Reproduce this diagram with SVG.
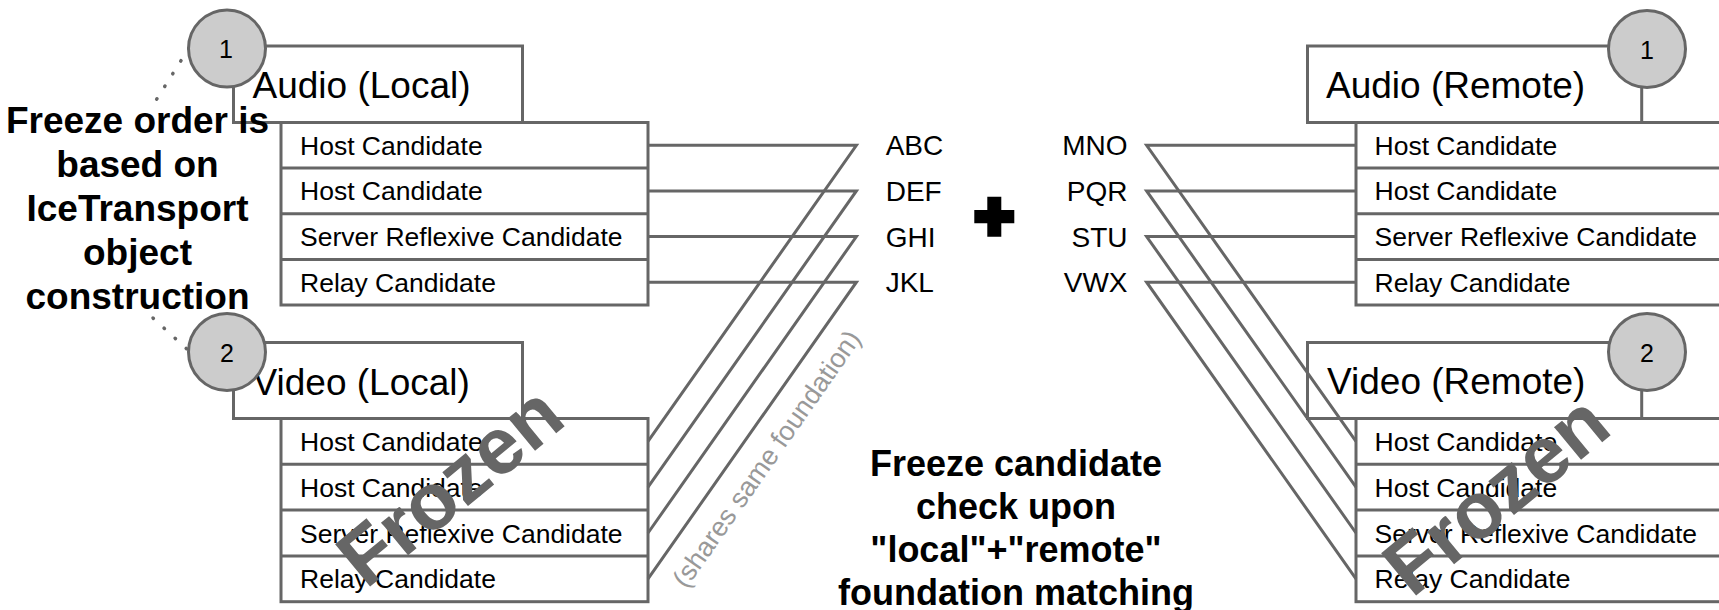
<svg xmlns="http://www.w3.org/2000/svg" width="1719" height="610" viewBox="0 0 1719 610">
<style>
.box{fill:#ffffff;stroke:#666666;stroke-width:3}
.div{stroke:#666666;stroke-width:3}
.badge{fill:#cccccc;stroke:#666666;stroke-width:3}
.conn{fill:none;stroke:#666666;stroke-width:3;stroke-linejoin:miter}
.dots{fill:none;stroke:#666666;stroke-width:3.5;stroke-linecap:round;stroke-dasharray:0.5 14.5}
.title{font-family:"Liberation Sans",Arial,sans-serif;font-size:37px;fill:#000}
.cand{font-family:"Liberation Sans",Arial,sans-serif;font-size:26.5px;fill:#000}
.lbl{font-family:"Liberation Sans",Arial,sans-serif;font-size:28px;fill:#000}
.num{font-family:"Liberation Sans",Arial,sans-serif;font-size:25px;fill:#000;text-anchor:middle}
.note{font-family:"Liberation Sans",Arial,sans-serif;font-weight:bold;fill:#000;text-anchor:middle}
.frozen{font-family:"Liberation Sans",Arial,sans-serif;font-weight:bold;font-size:80px;fill:#666666;text-anchor:middle}
.shares{font-family:"Liberation Sans",Arial,sans-serif;font-size:27px;fill:#999999;text-anchor:middle}
</style>
<rect width="1719" height="610" fill="#ffffff"/>

<!-- Local side -->
<g id="audio-local">
  <rect class="box" x="233.5" y="46" width="289" height="76.5"/>
  <text class="title" x="252.5" y="98">Audio (Local)</text>
</g>
<g id="audio-local-candidates">
  <rect class="box" x="281" y="122.5" width="367" height="182.5"/>
  <line class="div" x1="281" y1="168.1" x2="648" y2="168.1"/>
  <line class="div" x1="281" y1="213.7" x2="648" y2="213.7"/>
  <line class="div" x1="281" y1="259.4" x2="648" y2="259.4"/>
  <text class="cand" x="300" y="154.8">Host Candidate</text>
  <text class="cand" x="300" y="200.4">Host Candidate</text>
  <text class="cand" x="300" y="246">Server Reflexive Candidate</text>
  <text class="cand" x="300" y="291.7">Relay Candidate</text>
</g>
<g id="video-local">
  <rect class="box" x="233.5" y="342.5" width="289" height="76"/>
  <text class="title" x="252.5" y="394.5">Video (Local)</text>
</g>
<g id="video-local-candidates">
  <rect class="box" x="281" y="418.5" width="367" height="183.2"/>
  <line class="div" x1="281" y1="464.3" x2="648" y2="464.3"/>
  <line class="div" x1="281" y1="510.1" x2="648" y2="510.1"/>
  <line class="div" x1="281" y1="555.9" x2="648" y2="555.9"/>
  <text class="cand" x="300" y="450.9">Host Candidate</text>
  <text class="cand" x="300" y="496.7">Host Candidate</text>
  <text class="cand" x="300" y="542.5">Server Reflexive Candidate</text>
  <text class="cand" x="300" y="588.3">Relay Candidate</text>
</g>

<!-- Remote side -->
<g id="audio-remote">
  <rect class="box" x="1307.5" y="46" width="334.2" height="76.5"/>
  <text class="title" x="1326" y="98">Audio (Remote)</text>
</g>
<g id="audio-remote-candidates">
  <rect class="box" x="1356" y="122.5" width="400" height="182.5"/>
  <line class="div" x1="1356" y1="168.1" x2="1756" y2="168.1"/>
  <line class="div" x1="1356" y1="213.7" x2="1756" y2="213.7"/>
  <line class="div" x1="1356" y1="259.4" x2="1756" y2="259.4"/>
  <text class="cand" x="1374.5" y="154.8">Host Candidate</text>
  <text class="cand" x="1374.5" y="200.4">Host Candidate</text>
  <text class="cand" x="1374.5" y="246">Server Reflexive Candidate</text>
  <text class="cand" x="1374.5" y="291.7">Relay Candidate</text>
</g>
<g id="video-remote">
  <rect class="box" x="1307.5" y="342.5" width="334.2" height="76"/>
  <text class="title" x="1327" y="393.5">Video (Remote)</text>
</g>
<g id="video-remote-candidates">
  <rect class="box" x="1356" y="418.5" width="400" height="183.2"/>
  <line class="div" x1="1356" y1="464.3" x2="1756" y2="464.3"/>
  <line class="div" x1="1356" y1="510.1" x2="1756" y2="510.1"/>
  <line class="div" x1="1356" y1="555.9" x2="1756" y2="555.9"/>
  <text class="cand" x="1374.5" y="450.9">Host Candidate</text>
  <text class="cand" x="1374.5" y="496.7">Host Candidate</text>
  <text class="cand" x="1374.5" y="542.5">Server Reflexive Candidate</text>
  <text class="cand" x="1374.5" y="588.3">Relay Candidate</text>
</g>

<!-- Connectors -->
<g id="connectors">
  <path class="conn" d="M648,145.3 H856.4 L648,441.4"/>
  <path class="conn" d="M648,190.9 H856.4 L648,487.2"/>
  <path class="conn" d="M648,236.5 H856.4 L648,533"/>
  <path class="conn" d="M648,282.2 H856.4 L648,578.8"/>
  <path class="conn" d="M1356,145.3 H1146.6 L1356,441.4"/>
  <path class="conn" d="M1356,190.9 H1146.6 L1356,487.2"/>
  <path class="conn" d="M1356,236.5 H1146.6 L1356,533"/>
  <path class="conn" d="M1356,282.2 H1146.6 L1356,578.8"/>
  <line class="dots" x1="189" y1="48" x2="153" y2="105"/>
  <line class="dots" x1="153" y1="318" x2="189" y2="351"/>
</g>

<!-- Foundation labels -->
<g id="labels-local">
  <text class="lbl" x="885.7" y="155.3">ABC</text>
  <text class="lbl" x="885.7" y="200.9">DEF</text>
  <text class="lbl" x="885.7" y="246.5">GHI</text>
  <text class="lbl" x="885.7" y="292.2">JKL</text>
</g>
<g id="labels-remote">
  <text class="lbl" x="1127.5" y="155.3" text-anchor="end">MNO</text>
  <text class="lbl" x="1127.5" y="200.9" text-anchor="end">PQR</text>
  <text class="lbl" x="1127.5" y="246.5" text-anchor="end">STU</text>
  <text class="lbl" x="1127.5" y="292.2" text-anchor="end">VWX</text>
</g>
<g id="plus">
  <path fill="#000000" d="M987.3,196.7 H1001.3 V210 H1014.3 V223.3 H1001.3 V236.7 H987.3 V223.3 H974.3 V210 H987.3 Z"/>
</g>

<!-- Order badges -->
<g id="badge-local-1"><circle class="badge" cx="227" cy="48.5" r="38.5"/><text class="num" x="226" y="58">1</text></g>
<g id="badge-local-2"><circle class="badge" cx="227" cy="352" r="38.5"/><text class="num" x="227" y="361.5">2</text></g>
<g id="badge-remote-1"><circle class="badge" cx="1647" cy="49" r="38.5"/><text class="num" x="1647" y="58.5">1</text></g>
<g id="badge-remote-2"><circle class="badge" cx="1647" cy="352" r="38.5"/><text class="num" x="1647" y="361.5">2</text></g>

<!-- Notes -->
<g id="note-order">
  <text class="note" font-size="37" x="137.5" y="133.3">Freeze order is</text>
  <text class="note" font-size="37" x="137.5" y="177.2">based on</text>
  <text class="note" font-size="37" x="137.5" y="221">IceTransport</text>
  <text class="note" font-size="37" x="137.5" y="264.8">object</text>
  <text class="note" font-size="37" x="137.5" y="308.5">construction</text>
</g>
<g id="note-freeze">
  <text class="note" font-size="36" x="1016" y="476">Freeze candidate</text>
  <text class="note" font-size="36" x="1016" y="519">check upon</text>
  <text class="note" font-size="36" x="1016" y="562">"local"+"remote"</text>
  <text class="note" font-size="36" x="1016" y="604.5">foundation matching</text>
</g>
<g id="note-shares">
  <text class="shares" transform="translate(774,464) rotate(-55)" x="0" y="0">(shares same foundation)</text>
</g>
<g id="frozen">
  <text class="frozen" transform="translate(452,488) rotate(-39.5)" x="0" y="24">Frozen</text>
  <text class="frozen" transform="translate(1498,497) rotate(-39.5)" x="0" y="24">Frozen</text>
</g>
</svg>
